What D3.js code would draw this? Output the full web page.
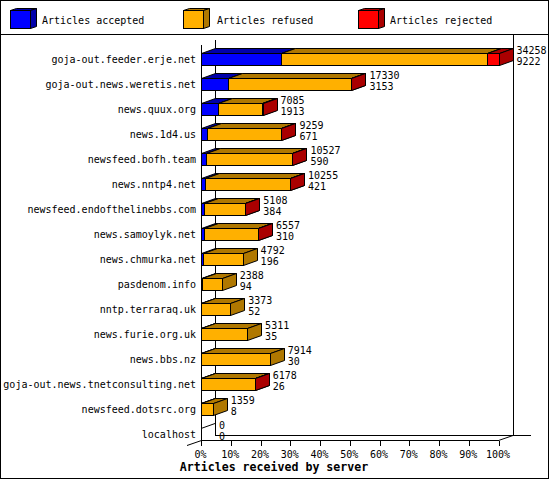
<!DOCTYPE html>
<html>
<head>
<meta charset="utf-8">
<script src="https://cdn.jsdelivr.net/npm/d3@7"></script>
<style>
    body { margin: 0; background: #fff; }
    text { font-family: "DejaVu Sans Mono", monospace; font-size: 10px; fill: #000; }
    .title { font-weight: bold; font-size: 11.6px; }
</style>
</head>
<body>
<svg id="vis_svg"></svg>
<script>
// Data
let hosts = [
    'goja-out.feeder.erje.net', 'goja-out.news.weretis.net', 'news.quux.org', 'news.1d4.us',
    'newsfeed.bofh.team', 'news.nntp4.net', 'newsfeed.endofthelinebbs.com', 'news.samoylyk.net',
    'news.chmurka.net', 'pasdenom.info', 'nntp.terraraq.uk', 'news.furie.org.uk',
    'news.bbs.nz', 'goja-out.news.tnetconsulting.net', 'newsfeed.dotsrc.org', 'localhost'
];
let accepted = [9222, 3153, 1913, 671, 590, 421, 384, 310, 196, 94, 52, 35, 30, 26, 8, 0];
let refused  = [23746, 14137, 5142, 8563, 9902, 9804, 4704, 6227, 4596, 2294, 3321, 5276, 7884, 6137, 1351, 0];
let rejected = [1290, 40, 30, 25, 35, 30, 20, 20, 0, 0, 0, 0, 0, 15, 0, 0];
let seriesNames = ['Articles accepted', 'Articles refused', 'Articles rejected'];
let percentTicks = [0, 10, 20, 30, 40, 50, 60, 70, 80, 90, 100];
let axisTitle = 'Articles received by server';

// Global Variables
let config = {
    'svg': {},
    'plot': {},
    'legend': {}
};
let scales = {};

/**
 * Set up the visualization
 */
function visSetup() {
    config.svg.width = 550;
    config.svg.height = 480;

    config.plot.left = 201;
    config.plot.right = 498.5;
    config.plot.top = 40;
    config.plot.bottom = 440;
    config.plot.dx = 14;         // depth of the 3d effect
    config.plot.dy = 5;
    config.plot.face = 12;       // height of the front face of a bar
    config.plot.backRight = 531;
    config.plot.wallTop = 35;

    config.legend.x = [10, 183, 358];
    config.legend.textX = [42, 217, 390];
    config.legend.front = 20;
    config.legend.faceH = 18;

    config.colors = ['#0000ff', '#ffb000', '#ff0000'];
    config.sides = ['#0000aa', '#b07800', '#aa0000'];

    svg = d3.select('#vis_svg')
        .attr('width', config.svg.width)
        .attr('height', config.svg.height);
}

/**
 * Draw the visualization
 */
function visDraw() {
    let p = config.plot;
    let totals = hosts.map((h, i) => accepted[i] + refused[i] + rejected[i]);
    let series = [accepted, refused, rejected];

    scales.x = d3.scaleLinear().domain([0, d3.max(totals)]).range([p.left, p.right]);
    scales.pct = d3.scaleLinear().domain([0, 100]).range([p.left, p.right]);
    scales.y = d3.scaleBand().domain(hosts).range([p.top, p.bottom]);

    let faceTop = h => scales.y(h) + scales.y.bandwidth() - p.face;

    // border and legend separator
    svg.append('rect')
        .attr('x', 0.5).attr('y', 0.5)
        .attr('width', 548).attr('height', 478)
        .style('fill', 'none').style('stroke', '#000');
    svg.append('line')
        .attr('x1', 0).attr('x2', 549).attr('y1', 34.5).attr('y2', 34.5)
        .style('stroke', '#000');

    // legend
    let legendG = svg.append('g').attr('id', 'legend');
    seriesNames.forEach((name, i) => {
        let x = config.legend.x[i], y = 10;
        let w = config.legend.front, h = config.legend.faceH;
        drawBox(legendG, x, x + w, y, y + h, 6, 2, config.colors[i], config.sides[i]);
        legendG.append('text')
            .attr('x', config.legend.textX[i]).attr('y', 24)
            .text(name);
    });

    // walls
    let wallG = svg.append('g').attr('id', 'walls').style('stroke', '#000').style('shape-rendering', 'crispEdges');
    wallG.append('line')
        .attr('x1', p.left + p.dx + 0.5).attr('x2', p.left + p.dx + 0.5)
        .attr('y1', p.top).attr('y2', p.bottom - p.dy);
    wallG.append('line')
        .attr('x1', p.left + p.dx).attr('x2', p.backRight)
        .attr('y1', p.bottom - p.dy + 0.5).attr('y2', p.bottom - p.dy + 0.5);
    wallG.append('line')
        .attr('x1', p.right + p.dx + 0.5).attr('x2', p.right + p.dx + 0.5)
        .attr('y1', p.wallTop).attr('y2', p.bottom - p.dy);
    wallG.append('line')
        .attr('x1', p.left + 0.5).attr('x2', p.left + 0.5)
        .attr('y1', p.top + p.dy).attr('y2', p.bottom);
    svg.append('path')
        .attr('d', 'M' + (p.right) + ',' + (p.bottom + 0.5) + 'L' + (p.right + p.dx + 0.5) + ',' + (p.bottom - p.dy + 0.5))
        .style('stroke', '#000').style('fill', 'none');
    svg.append('path')
        .attr('d', 'M' + (p.left - p.dx) + ',' + (p.bottom + 5.5) + 'L' + (p.left + 0.5) + ',' + (p.bottom + 0.5))
        .style('stroke', '#000').style('fill', 'none');

    // x axis
    let axis = d3.axisBottom(scales.pct)
        .tickValues(percentTicks)
        .tickFormat(d => d + '%')
        .tickSize(5)
        .tickPadding(5)
        .tickSizeOuter(0);
    let axisG = svg.append('g')
        .attr('transform', translate(0, p.bottom + 0.5))
        .call(axis);
    axisG.select('.domain')
        .attr('d', 'M' + p.left + ',0H' + p.right)
        .style('shape-rendering', 'crispEdges');
    axisG.selectAll('.tick line').style('shape-rendering', 'crispEdges');
    axisG.selectAll('text')
        .attr('x', -1)
        .style('font-family', '"DejaVu Sans Mono", monospace')
        .style('font-size', '10px');

    svg.append('text')
        .attr('class', 'title')
        .attr('x', 274).attr('y', 471)
        .attr('text-anchor', 'middle')
        .text(axisTitle);

    // bars
    let barsG = svg.append('g').attr('id', 'bars');
    hosts.forEach((h, i) => {
        let top = faceTop(h), bottom = top + p.face;
        let start = 0;
        if (totals[i] === 0) {
            barsG.append('line')
                .attr('x1', scales.x(0)).attr('y1', top + 0.5)
                .attr('x2', scales.x(0) + p.dx).attr('y2', top - p.dy + 0.5)
                .style('stroke', '#000');
        }
        series.forEach((s, k) => {
            let v = s[i];
            if (v === 0) return;
            drawBox(barsG, scales.x(start), scales.x(start + v), top, bottom, p.dx, p.dy, config.colors[k], config.sides[k]);
            start += v;
        });

        // category label
        svg.append('text')
            .attr('x', 196).attr('y', top + 10)
            .attr('text-anchor', 'end')
            .text(h);

        // value labels
        let lx = scales.x(totals[i]) + p.dx + 4;
        svg.append('text').attr('x', lx).attr('y', bottom - 11).text(totals[i]);
        svg.append('text').attr('x', lx).attr('y', bottom).text(accepted[i]);
    });
}

// Helper functions

/**
 * Draw a 3d box: front face, top face and right side face
 */
function drawBox(g, x0, x1, y0, y1, dx, dy, fill, side) {
    let a = Math.round(x0) + 0.5, b = Math.round(x1) + 0.5;
    let t = Math.round(y0) + 0.5, u = Math.round(y1) + 0.5;
    g.append('path')
        .attr('d', 'M' + a + ',' + t + 'L' + (a + dx) + ',' + (t - dy) + 'L' + (b + dx) + ',' + (t - dy) + 'L' + b + ',' + t + 'Z')
        .style('fill', side).style('stroke', '#000');
    g.append('path')
        .attr('d', 'M' + b + ',' + t + 'L' + (b + dx) + ',' + (t - dy) + 'L' + (b + dx) + ',' + (u - dy) + 'L' + b + ',' + u + 'Z')
        .style('fill', side).style('stroke', '#000');
    g.append('rect')
        .attr('x', a).attr('y', t)
        .attr('width', Math.max(b - a, 0)).attr('height', u - t)
        .style('fill', fill).style('stroke', '#000')
        .style('shape-rendering', 'crispEdges');
}

function translate(x, y) {
    return 'translate(' + x + ',' + y + ')';
}

visSetup();
visDraw();
</script>
</body>
</html>
